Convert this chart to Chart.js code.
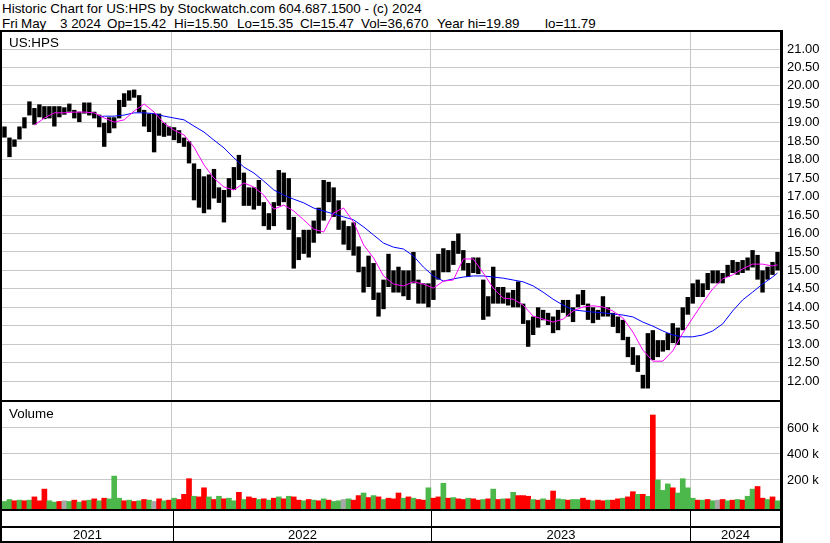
<!DOCTYPE html>
<html>
<head>
<meta charset="utf-8">
<script src="https://cdn.jsdelivr.net/npm/chart.js@4.4.1/dist/chart.umd.min.js"></script>
<style>
  body { margin: 0; width: 830px; height: 543px; position: relative; overflow: hidden; background: #fff;
         font-family: "Liberation Sans", Arial, sans-serif; color: #000; }
  .txt { position: absolute; white-space: pre; font-size: 13.4px; line-height: 15px; }
  .ln { position: absolute; background: #000; }
  .yr { position: absolute; top: 527px; height: 15px; line-height: 15px; font-size: 13px; text-align: center; }
  canvas { position: absolute; }
</style>
</head>
<body>
<canvas id="price" width="828" height="368" style="left:2px;top:32px"></canvas>
<canvas id="volume" width="828" height="107" style="left:2px;top:402px"></canvas>

<div class="txt" style="left:2px;top:1px">Historic Chart for US:HPS by Stockwatch.com 604.687.1500 - (c) 2024</div>
<div class="txt" style="left:2px;top:16px">Fri</div>
<div class="txt" style="left:21px;top:16px">May</div>
<div class="txt" style="left:60px;top:16px">3 2024</div>
<div class="txt" style="left:107px;top:16px">Op=15.42</div>
<div class="txt" style="left:174px;top:16px">Hi=15.50</div>
<div class="txt" style="left:237px;top:16px">Lo=15.35</div>
<div class="txt" style="left:300px;top:16px">Cl=15.47</div>
<div class="txt" style="left:361px;top:16px">Vol=36,670</div>
<div class="txt" style="left:437px;top:16px">Year hi=19.89</div>
<div class="txt" style="left:545px;top:16px">lo=11.79</div>
<div class="txt" style="left:9px;top:35px">US:HPS</div>
<div class="txt" style="left:9px;top:406px">Volume</div>

<div class="ln" style="left:0;top:30px;width:783px;height:2px"></div>
<div class="ln" style="left:0;top:30px;width:2px;height:513px"></div>
<div class="ln" style="left:780px;top:30px;width:3px;height:513px"></div>
<div class="ln" style="left:0;top:400px;width:783px;height:2px"></div>
<div class="ln" style="left:0;top:509px;width:783px;height:2px"></div>
<div class="ln" style="left:0;top:526px;width:783px;height:2px"></div>
<div class="ln" style="left:0;top:541px;width:783px;height:2px"></div>
<div class="ln" style="left:173px;top:511px;width:1px;height:30px"></div>
<div class="ln" style="left:431px;top:511px;width:1px;height:30px"></div>
<div class="ln" style="left:690px;top:511px;width:1px;height:30px"></div>

<div class="yr" style="left:2px;width:171px">2021</div>
<div class="yr" style="left:174px;width:257px">2022</div>
<div class="yr" style="left:432px;width:258px">2023</div>
<div class="yr" style="left:691px;width:89px">2024</div>

<script>
// weekly buckets (Monday of each week)
const weeks = [
  '2021-05-10','2021-05-17','2021-05-24','2021-05-31','2021-06-07','2021-06-14','2021-06-21','2021-06-28','2021-07-05','2021-07-12',
  '2021-07-19','2021-07-26','2021-08-02','2021-08-09','2021-08-16','2021-08-23','2021-08-30','2021-09-06','2021-09-13','2021-09-20',
  '2021-09-27','2021-10-04','2021-10-11','2021-10-18','2021-10-25','2021-11-01','2021-11-08','2021-11-15','2021-11-22','2021-11-29',
  '2021-12-06','2021-12-13','2021-12-20','2021-12-27',
  '2022-01-03','2022-01-10','2022-01-17','2022-01-24','2022-01-31','2022-02-07','2022-02-14','2022-02-21','2022-02-28','2022-03-07',
  '2022-03-14','2022-03-21','2022-03-28','2022-04-04','2022-04-11','2022-04-18','2022-04-25','2022-05-02','2022-05-09','2022-05-16',
  '2022-05-23','2022-05-30','2022-06-06','2022-06-13','2022-06-20','2022-06-27','2022-07-04','2022-07-11','2022-07-18','2022-07-25',
  '2022-08-01','2022-08-08','2022-08-15','2022-08-22','2022-08-29','2022-09-05','2022-09-12','2022-09-19','2022-09-26','2022-10-03',
  '2022-10-10','2022-10-17','2022-10-24','2022-10-31','2022-11-07','2022-11-14','2022-11-21','2022-11-28','2022-12-05','2022-12-12',
  '2022-12-19','2022-12-26',
  '2023-01-02','2023-01-09','2023-01-16','2023-01-23','2023-01-30','2023-02-06','2023-02-13','2023-02-20','2023-02-27','2023-03-06',
  '2023-03-13','2023-03-20','2023-03-27','2023-04-03','2023-04-10','2023-04-17','2023-04-24','2023-05-01','2023-05-08','2023-05-15',
  '2023-05-22','2023-05-29','2023-06-05','2023-06-12','2023-06-19','2023-06-26','2023-07-03','2023-07-10','2023-07-17','2023-07-24',
  '2023-07-31','2023-08-07','2023-08-14','2023-08-21','2023-08-28','2023-09-04','2023-09-11','2023-09-18','2023-09-25','2023-10-02',
  '2023-10-09','2023-10-16','2023-10-23','2023-10-30','2023-11-06','2023-11-13','2023-11-20','2023-11-27','2023-12-04','2023-12-11',
  '2023-12-18','2023-12-25',
  '2024-01-01','2024-01-08','2024-01-15','2024-01-22','2024-01-29','2024-02-05','2024-02-12','2024-02-19','2024-02-26','2024-03-04',
  '2024-03-11','2024-03-18','2024-03-25','2024-04-01','2024-04-08','2024-04-15','2024-04-22','2024-04-29'
];

const weekHigh = [
  18.90,18.60,18.55,18.90,19.15,19.58,19.40,19.50,19.45,19.45,
  19.45,19.45,19.42,19.52,19.35,19.30,19.55,19.55,19.30,19.22,
  19.00,19.15,19.15,19.62,19.80,19.88,19.90,19.75,19.35,19.25,
  19.25,19.25,19.00,18.90,18.88,18.80,18.60,18.50,17.90,17.75,
  17.55,17.60,17.75,17.25,17.18,17.50,17.80,18.13,17.65,17.25,
  17.25,17.45,16.85,16.55,16.85,17.72,17.65,17.50,16.45,15.90,
  16.10,16.10,16.35,16.70,17.45,17.40,17.25,16.90,16.35,16.20,
  16.30,15.65,15.10,15.40,15.20,14.40,14.75,15.45,15.00,15.10,
  15.00,15.00,15.50,14.75,14.65,14.65,15.00,15.45,15.60,15.55,
  15.80,16.00,15.55,15.20,15.35,15.35,14.75,14.30,15.10,14.55,
  14.55,14.40,14.47,14.70,14.10,13.65,13.75,14.00,13.93,13.85,
  13.75,13.93,14.20,14.20,14.00,14.35,14.47,14.10,14.00,13.93,
  14.30,14.00,13.85,13.75,13.66,13.20,12.92,12.70,12.17,13.30,
  13.38,13.11,13.11,13.30,13.57,13.45,14.00,14.28,14.65,14.75,
  14.65,14.93,15.00,15.00,14.93,15.15,15.28,15.23,15.28,15.35,
  15.55,15.42,15.00,15.10,15.23,15.50
];

const weekLow = [
  18.60,18.07,18.35,18.55,18.85,19.20,18.95,19.15,19.10,19.12,
  18.90,19.15,19.22,19.30,19.12,19.02,19.25,19.20,19.12,18.88,
  18.35,18.72,18.85,19.12,19.43,19.60,19.68,19.28,18.90,18.75,
  18.20,18.65,18.62,18.65,18.53,18.45,18.35,17.90,16.90,16.70,
  16.55,16.65,16.95,16.83,16.30,16.98,17.18,17.45,16.75,16.75,
  16.65,16.75,16.20,16.10,16.20,16.75,16.85,16.10,15.05,15.28,
  15.45,15.35,15.75,16.00,16.35,16.85,16.45,16.10,15.70,15.55,
  15.40,14.95,14.40,14.55,14.20,13.75,13.95,14.55,14.40,14.40,
  14.30,14.20,14.65,14.10,14.10,14.00,14.20,14.75,14.95,14.95,
  15.15,15.45,15.00,14.82,14.93,14.90,13.66,13.75,14.10,14.10,
  14.10,14.05,14.00,14.00,13.55,12.93,13.25,13.45,13.65,13.52,
  13.30,13.38,13.85,13.75,13.60,14.00,14.06,13.66,13.57,13.66,
  13.75,13.75,13.47,13.30,13.11,12.65,12.44,12.25,11.80,11.80,
  12.57,12.65,12.80,12.84,13.03,12.98,13.38,13.80,14.10,14.28,
  14.28,14.47,14.65,14.65,14.65,14.82,14.93,14.88,14.93,15.00,
  15.08,14.75,14.40,14.75,14.88,15.00
];

// moving averages (every other week)
const maFast = [
  null,null,null,null,null,null,18.94,null,19.13,null,
  19.27,null,19.27,null,19.29,null,19.29,null,19.27,null,
  19.13,null,19.02,null,19.08,null,19.32,null,19.51,null,
  19.29,null,18.99,null,18.80,null,18.67,null,18.34,null,
  17.86,null,17.50,null,17.26,null,17.18,null,17.37,null,
  17.26,null,17.04,null,16.66,null,16.77,null,16.61,null,
  16.37,null,16.12,null,16.04,null,16.56,null,16.69,null,
  16.31,null,15.69,null,15.34,null,14.85,null,14.63,null,
  14.58,null,14.69,null,14.63,null,14.52,null,14.71,null,
  14.74,null,15.31,null,15.31,null,14.93,null,14.52,null,
  14.25,null,14.22,null,14.06,null,13.76,null,13.68,null,
  13.60,null,13.68,null,13.90,null,14.01,null,14.04,null,
  14.01,null,13.90,null,13.71,null,13.33,null,12.84,null,
  12.54,null,12.54,null,12.82,null,13.30,null,13.71,null,
  14.12,null,14.50,null,14.77,null,14.88,null,15.04,null,
  15.17,null,15.17,null,15.12,15.15
];

const maSlow = [
  null,null,null,null,null,null,null,null,null,null,
  null,null,null,null,null,null,null,null,null,19.16,
  19.18,null,19.18,null,19.21,null,19.27,null,19.27,null,
  19.25,null,19.18,null,19.13,null,19.08,null,18.91,null,
  18.75,null,18.53,null,18.32,null,18.05,null,17.80,null,
  17.64,null,17.42,null,17.18,null,17.04,null,16.93,null,
  16.83,null,16.69,null,16.61,null,16.53,null,16.45,null,
  16.37,null,16.18,null,15.96,null,15.74,null,15.63,null,
  15.58,null,15.39,null,15.09,null,14.85,null,14.71,null,
  14.77,null,14.82,null,14.85,null,14.85,null,14.82,null,
  14.79,null,14.74,null,14.69,null,14.58,null,14.41,null,
  14.22,null,14.06,null,13.93,null,13.90,null,13.87,null,
  13.85,null,13.82,null,13.79,null,13.74,null,13.60,null,
  13.49,null,13.36,null,13.25,null,13.20,null,13.20,null,
  13.25,null,13.36,null,13.55,null,13.90,null,14.20,null,
  14.41,null,14.63,null,14.82,14.93
];

// volume in thousands, and direction of the bar (u = up, d = down, n = unchanged)
const volume = [
  35,50,40,45,40,45,70,40,130,40,
  30,35,40,35,45,30,40,45,55,40,
  60,55,230,60,40,45,35,40,50,45,
  35,55,40,45,60,50,90,210,75,70,
  140,70,50,75,55,60,40,105,50,70,
  60,50,55,45,60,70,55,75,70,45,
  40,50,45,40,55,45,35,40,50,55,
  45,80,100,65,80,70,50,60,55,100,
  60,70,60,50,45,140,60,70,175,60,
  65,55,50,60,55,45,50,55,130,50,
  55,55,105,80,80,75,50,45,55,45,
  115,55,50,45,50,50,60,45,40,45,
  40,45,45,55,60,70,110,90,90,75,
  700,200,120,170,140,100,210,140,60,45,
  45,50,40,45,50,40,45,50,45,75,
  130,150,60,50,70,40
];
const volDir = [
  'u','u','d','u','d','u','d','d','d','u',
  'u','d','n','u','d','u','d','u','d','u',
  'd','u','u','u','d','u','d','u','d','u',
  'n','d','u','d','u','d','d','d','u','d',
  'd','u','d','u','d','u','u','d','u','d',
  'd','u','d','u','d','u','d','u','d','d',
  'u','d','u','d','u','d','u','u','n','u',
  'd','d','u','d','u','d','u','d','d','d',
  'u','d','u','d','d','u','d','d','u','d',
  'u','d','d','u','d','d','u','d','u','d',
  'u','d','u','d','d','d','u','d','u','d',
  'd','u','u','d','u','u','d','d','u','d',
  'd','u','d','d','u','d','d','u','d','u',
  'd','u','u','u','d','u','u','u','u','d',
  'u','d','u','n','d','u','d','u','d','u',
  'u','d','d','u','d','u'
];

const priceTicks = [12, 12.5, 13, 13.5, 14, 14.5, 15, 15.5, 16, 16.5, 17, 17.5, 18, 18.5, 19, 19.5, 20, 20.5, 21];
const volTicks = [200, 400, 600];

const dirColor = { u: '#4cb84c', d: '#ff0000', n: '#a8a8a8' };
const gridGray = '#c8c8c8';

Chart.defaults.font.family = '"Liberation Sans", Arial, sans-serif';
Chart.defaults.font.size = 13;
Chart.defaults.color = '#000';

function yearStart(i) {
  return i > 0 && i < weeks.length && weeks[i].slice(0, 4) !== weeks[i - 1].slice(0, 4);
}

function xAxis() {
  return {
    display: true,
    ticks: { display: false },
    border: { display: false },
    grid: { drawTicks: false, color: c => yearStart(c.index) ? gridGray : 'rgba(0,0,0,0)' },
    afterFit: s => { s.height = 0; s.paddingLeft = 0; s.paddingRight = 0; }
  };
}

function yAxis(min, max, ticks, fmt) {
  return {
    position: 'right',
    min: min,
    max: max,
    border: { display: false },
    grid: { color: gridGray, drawTicks: false },
    ticks: { padding: 7, callback: fmt },
    afterBuildTicks: s => { s.ticks = ticks.map(v => ({ value: v })); },
    afterFit: s => { s.width = 50; s.paddingTop = 0; s.paddingBottom = 0; }
  };
}

const common = {
  responsive: false,
  animation: false,
  devicePixelRatio: 1,
  layout: { padding: 0 },
  plugins: { legend: { display: false }, tooltip: { enabled: false } }
};

new Chart(document.getElementById('price'), {
  type: 'bar',
  data: {
    labels: weeks,
    datasets: [
      { type: 'line', data: maFast, borderColor: '#ff00ff', borderWidth: 1, pointRadius: 0, spanGaps: true, order: 0 },
      { type: 'line', data: maSlow, borderColor: '#0000ff', borderWidth: 1, pointRadius: 0, spanGaps: true, order: 0 },
      {
        data: weeks.map((w, i) => [weekLow[i], weekHigh[i]]),
        backgroundColor: '#000',
        borderWidth: 0,
        barPercentage: 0.88,
        categoryPercentage: 1,
        order: 1
      }
    ]
  },
  options: Object.assign({}, common, {
    scales: {
      x: xAxis(),
      y: yAxis(11.488, 21.461, priceTicks, v => Number(v).toFixed(2))
    }
  })
});

new Chart(document.getElementById('volume'), {
  type: 'bar',
  data: {
    labels: weeks,
    datasets: [{
      data: volume,
      backgroundColor: volDir.map(d => dirColor[d]),
      borderWidth: 0,
      barPercentage: 1,
      categoryPercentage: 1,
      base: -23.08
    }]
  },
  options: Object.assign({}, common, {
    scales: {
      x: xAxis(),
      y: yAxis(-23.08, 800, volTicks, v => v + ' k')
    }
  })
});
</script>
</body>
</html>
